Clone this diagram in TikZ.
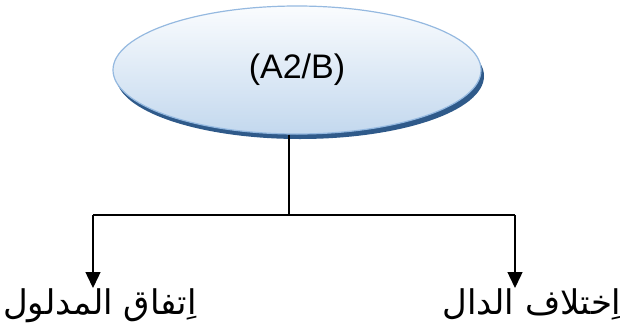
\documentclass[tikz,border=0pt]{standalone}
\usepackage{fontspec}
\setmainfont{Liberation Sans}
\newfontfamily\arabicfont[Script=Arabic]{DejaVu Sans}
\TeXXeTstate=1
\usetikzlibrary{arrows.meta,shapes.geometric,shadows}
\definecolor{ellborder}{HTML}{95B9E0}
\definecolor{elltop}{HTML}{FAFCFE}
\definecolor{ellbot}{HTML}{C3D8EE}
\definecolor{ellshadow}{HTML}{2F5A8A}
\tikzset{
  topell/.style={ellipse, minimum width=368pt, minimum height=128pt, draw=ellborder, line width=1.2pt,
    top color=elltop, bottom color=ellbot, font=\fontsize{34}{40}\selectfont, inner sep=0pt},
  conn/.style={line width=1.4pt, black},
  arr/.style={conn, -{Triangle[length=16pt,width=15pt]}},
  lbl/.style={font=\arabicfont\fontsize{34}{40}\selectfont, inner sep=0pt}
}
\begin{document}
\begin{tikzpicture}[x=1pt,y=-1pt]
\useasboundingbox (0,0) rectangle (620,327);
\fill[ellshadow] (300,76) ellipse (184pt and 63pt);
\node[topell] (root) at (297,70) {(A2/B)};
\coordinate (j) at (289,215);
\coordinate (jl) at (93,215);
\coordinate (jr) at (515,215);
\node[lbl, anchor=base] (l) at (100,314) {\beginR اِتفاق المدلول\endR};
\node[lbl, anchor=base] (r) at (532,314) {\beginR اِختلاف الدال\endR};
\draw[conn] (root.south -| j) -- (j);
\draw[conn] (jl) -- (jr);
\draw[arr] (jl) -- (93,288);
\draw[arr] (jr) -- (515,288);
\end{tikzpicture}
\end{document}
